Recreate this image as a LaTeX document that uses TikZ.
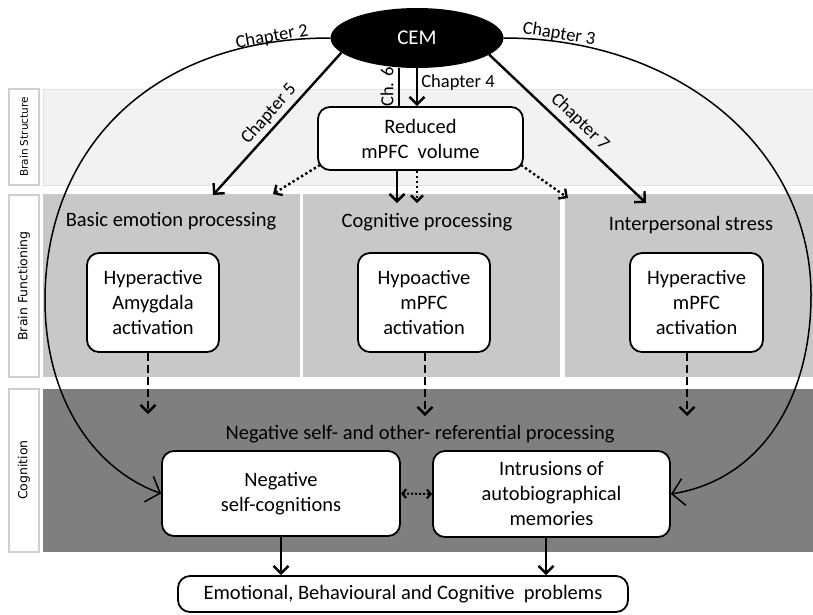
\documentclass[tikz,border=0pt]{standalone}
\usepackage{fontspec}
\setmainfont{Carlito}
\newfontfamily\labfont{DejaVu Sans}
\usetikzlibrary{arrows.meta,shapes.geometric}
\definecolor{bsfill}{HTML}{F2F2F2}
\definecolor{bsline}{HTML}{E2E2E2}
\definecolor{bffill}{HTML}{C8C8C8}
\definecolor{cgfill}{HTML}{7F7F7F}
\definecolor{sidegray}{HTML}{CFCFCF}
\begin{document}
\begin{tikzpicture}[x=1pt,y=-1pt,
  rbox/.style={draw, line width=1.8pt, rounded corners=12pt, fill=white, align=center,
    inner sep=0pt, font=\fontsize{20.5}{25}\selectfont},
  hdr/.style={inner sep=0pt, font=\fontsize{20.5}{25}\selectfont},
  lbl/.style={inner sep=1.5pt, font=\fontsize{18.5}{20}\selectfont},
  sidebox/.style={draw=sidegray, line width=1.5pt, fill=white},
  sidetxt/.style={inner sep=0pt, font=\labfont\fontsize{12.5}{14}\selectfont},
  arr/.style={line width=2.4pt, -{Straight Barb[length=7.5pt,width=15pt]}},
  dsh/.style={line width=2.4pt, dash pattern=on 8pt off 4pt, -{Straight Barb[length=7.5pt,width=15pt]}},
  dot/.style={line width=2.4pt, dash pattern=on 2.4pt off 2.6pt, -{Straight Barb[length=6pt,width=12pt]}},
  crv/.style={line width=1.5pt, -{Straight Barb[length=12pt,width=27pt]}},
  ln/.style={line width=2.4pt}]
\useasboundingbox (0,0) rectangle (813,614);

% bands
\filldraw[fill=bsfill, draw=bsline, line width=1pt] (43,89) rectangle (813,185);
\fill[bffill] (43,194) rectangle (300,377);
\fill[bffill] (303,194) rectangle (560,377);
\fill[bffill] (565,194) rectangle (813,377);
\fill[cgfill] (43,389) rectangle (813,552);

% side labels
\draw[sidebox] (9,89) rectangle (39,185);
\draw[sidebox] (9,195) rectangle (39,377);
\draw[sidebox] (9,389) rectangle (39,552);
\node[sidetxt, rotate=90, font=\labfont\fontsize{10.5}{12}\selectfont] (tbs) at (24,137) {Brain Structure};
\node[sidetxt, rotate=90] (tbf) at (24,286) {Brain Functioning};
\node[sidetxt, rotate=90] (tcg) at (24,470) {Cognition};

% headers
\node[hdr] (hbe) at (171,221) {Basic emotion processing};
\node[hdr] (hcp) at (427,222) {Cognitive processing};
\node[hdr] (his) at (691,225) {Interpersonal stress};
\node[hdr] (hng) at (420,434) {Negative self- and other- referential processing};

% nodes
\node[ellipse, fill=black, minimum width=173pt, minimum height=60pt, inner sep=0pt,
  text=white, font=\fontsize{21}{25}\selectfont] (cem) at (417,38) {CEM};
\node[rbox, minimum width=205pt, minimum height=63pt] (rv) at (420.5,138.5) {Reduced\\mPFC\ \ volume};
\node[rbox, minimum width=132pt, minimum height=99pt] (ha) at (153,302.5) {Hyperactive\\Amygdala\\activation};
\node[rbox, minimum width=132pt, minimum height=99pt] (hm) at (424,302.5) {Hypoactive\\mPFC\\activation};
\node[rbox, minimum width=133pt, minimum height=99pt] (hr) at (696.5,302.5) {Hyperactive\\mPFC\\activation};
\node[rbox, minimum width=238pt, minimum height=85pt] (nsc) at (281,493.5) {Negative\\self-cognitions};
\node[rbox, minimum width=237pt, minimum height=86pt] (int) at (551.5,494) {Intrusions of\\autobiographical\\memories};
\node[rbox, minimum width=450pt, minimum height=36pt] (emo) at (403,594) {Emotional, Behavioural and Cognitive\ \ problems};

% coordinates
\coordinate (c5) at (213,195);
\coordinate (c7) at (646,203);
\coordinate (c6) at (399,0);
\coordinate (lc) at (45,300);
\coordinate (rc) at (811,295);
\coordinate (tL) at (273,194);
\coordinate (tR) at (568,198);
\coordinate (tS) at (397,203);
\coordinate (tD) at (417,203);
\coordinate (d1) at (148,414);
\coordinate (d2) at (425,416);
\coordinate (d3) at (687,416);

% CEM connectors
\draw[crv] (cem.west) .. controls (150,38) and (45,150) .. (lc)
  .. controls (45,400) and (95,470) .. (nsc.west);
\draw[crv] (cem.east) .. controls (680,38) and (811,150) .. (rc)
  .. controls (811,400) and (760,480) .. (int.east);
\draw[arr] (cem.191) -- (c5);
\draw[arr] (cem.-13) -- (c7);
\draw[ln] (cem.south -| c6) -- (rv.north -| c6);
\draw[arr] (cem.south) -- (cem.south |- rv.north);

% chapter labels
\node[lbl, rotate=10] (l2) at (272,37) {Chapter 2};
\node[lbl, rotate=-9] (l3) at (559,34) {Chapter 3};
\node[lbl, rotate=48.6] (l5) at (269,114) {Chapter 5};
\node[lbl, rotate=-44] (l7) at (580,122) {Chapter 7};
\node[lbl, rotate=90] (l6) at (387,87) {Ch. 6};
\node[lbl] (l4) at (458,83) {Chapter 4};

% reduced volume outputs
\draw[dot] ([xshift=3pt,yshift=6pt]rv.south west) -- (tL);
\draw[dot] ([xshift=-3pt,yshift=6pt]rv.south east) -- (tR);
\draw[arr] (rv.south -| tS) -- (tS);
\draw[dot] (rv.south -| tD) -- (tD);

% functioning to cognition
\draw[dsh] (ha.south -| d1) -- (d1);
\draw[dsh] (hm.south -| d2) -- (d2);
\draw[dsh] (hr.south -| d3) -- (d3);

% cognition
\draw[line width=2pt, dash pattern=on 2pt off 2pt, {Straight Barb[length=4pt,width=9pt]}-{Straight Barb[length=4pt,width=9pt]}] (nsc.east) -- (int.west);
\draw[arr] (nsc.south) -- (nsc.south |- emo.north);
\draw[arr] ([xshift=-5.5pt]int.south) -- ([xshift=-5.5pt]int.south |- emo.north);
\end{tikzpicture}
\end{document}
